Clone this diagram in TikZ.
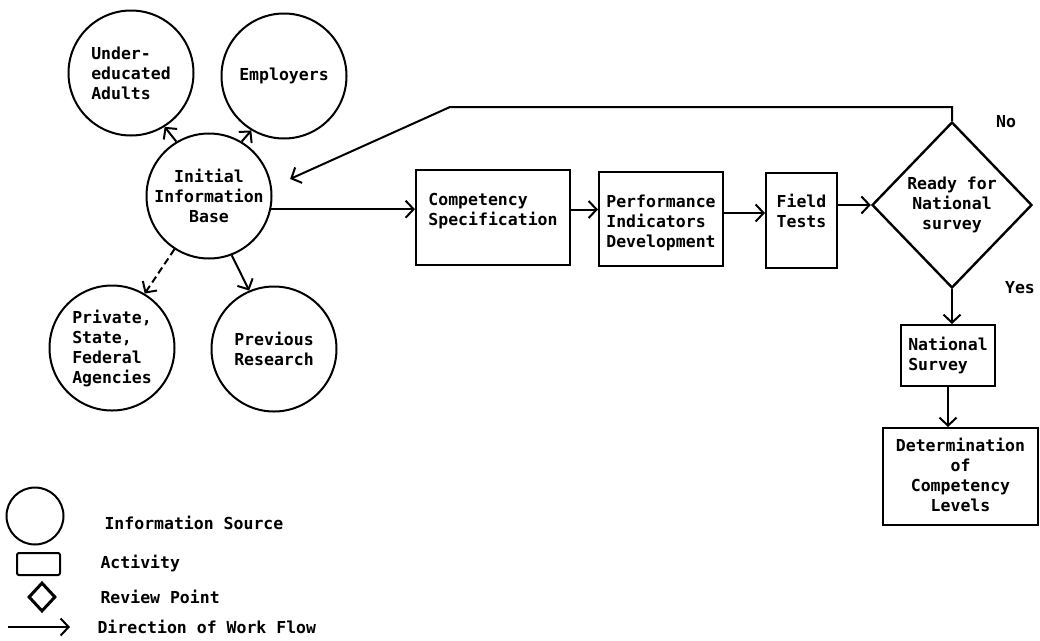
\documentclass[tikz,border=0pt]{standalone}
\usepackage{fontspec}
\setmonofont{DejaVu Sans Mono}[BoldFont={DejaVu Sans Mono Bold}]
\usepackage{tikz}
\usetikzlibrary{
    arrows.meta,
    positioning,
    shapes.geometric
}
\tikzset{
    typed/.style={
        font=\ttfamily\bfseries\fontsize{16.5}{20}\selectfont
    },
    source/.style={
        circle,
        draw=black,
        line width=2pt,
        minimum size=125pt,
        inner sep=0pt,
        align=left,
        typed
    },
    activity/.style={
        rectangle,
        draw=black,
        line width=2pt,
        inner sep=0pt,
        align=left,
        text height=55pt,
        text depth=40pt,
        typed
    },
    review/.style={
        diamond,
        draw=black,
        line width=2.4pt,
        minimum width=160pt,
        minimum height=166pt,
        inner sep=0pt,
        align=center,
        typed
    },
    flow/.style={
        -{Straight Barb[length=8pt, width=17pt]},
        line width=2pt
    },
    legend/.style={
        anchor=west,
        typed
    }
}

\begin{document}
\begin{tikzpicture}[x=1pt, y=-1pt]
\useasboundingbox (0,0) rectangle (1040,640);

% information sources
\node[source, align=center] (init) at (209,196) {Initial\\Information\\Base};
\node[source] (under) at (131,73) {Under-\\educated\\Adults};
\node[source] (employ) at (284,76) {Employers};
\node[source] (agency) at (112,348) {Private,\\State,\\Federal\\Agencies};
\node[source] (research) at (274,349) {Previous\\Research};

% activities
\node[activity, minimum width=154pt] (comp) at (493,217.5) {Competency\\Specification};
\node[activity, minimum width=124pt, text height=75pt, text depth=19pt] (perf) at (661,219) {Performance\\Indicators\\Development};
\node[activity, minimum width=71pt] (field) at (801.5,220) {Field\\Tests};
\node[review] (ready) at (952,205) {Ready for\\National\\survey};
\node[activity, minimum width=94pt, text height=45pt, text depth=16pt] (nat) at (948,355.5) {National\\Survey};
\node[activity, minimum width=155pt, align=center, text height=83pt, text depth=14pt] (det) at (960.5,476.5) {Determination\\of\\Competency\\Levels};

\node[typed] (no) at (1006,122) {No};
\node[typed] (yes) at (1020,288) {Yes};

% work flow
\draw[flow] (init.121) -- (under.-58);
\draw[flow] (init.59) -- (employ.-121);
\draw[flow, dash pattern=on 7pt off 4pt] (init.-123) -- (agency.59);
\draw[flow] (init.-69) -- (research.113);
\draw[flow] (init.-12) -- (init.-12 -| comp.west);
\draw[flow] ([yshift=8pt]comp.east) -- ([yshift=8pt]comp.east -| perf.west);
\draw[flow] ([yshift=6pt]perf.east) -- ([yshift=6pt]perf.east -| field.west);
\draw[flow] (ready.west -| field.east) -- (ready.west);
\draw[flow] (ready.south) -- (ready.south |- nat.north);
\draw[flow] (nat.south) -- (nat.south |- det.north);
\coordinate (turn) at (450,107);
\draw[flow, shorten >=20pt] (ready.north) |- (turn) -- (init.8);

% legend
\node[source, minimum size=57pt] (srckey) at (35,516) {};
\node[activity, minimum width=43pt, minimum height=22pt, text height=0pt, text depth=0pt, rounded corners=2pt] (actkey) at (38.5,564) {};
\node[review, minimum width=27pt, minimum height=29pt, line width=3pt] (revkey) at (42,597) {};
\coordinate (flowstart) at (8,627);
\coordinate (flowend) at (70,627);
\draw[flow] (flowstart) -- (flowend);

\node[legend] (srctext) at (101,523) {Information Source};
\node[legend] (acttext) at (97,563) {Activity};
\node[legend] (revtext) at (97,597) {Review Point};
\node[legend] (flowtext) at (94,627) {Direction of Work Flow};
\end{tikzpicture}
\end{document}
